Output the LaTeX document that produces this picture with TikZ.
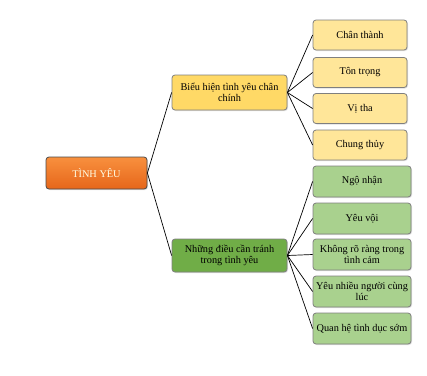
\documentclass[tikz,border=0pt]{standalone}
\usepackage{fontspec}
\setmainfont{Liberation Serif}
\usetikzlibrary{shadows}
\definecolor{roottop}{HTML}{F8903E}
\definecolor{rootbot}{HTML}{E6661A}
\definecolor{rootdraw}{HTML}{4A4A4A}
\definecolor{ymid}{HTML}{FFD966}
\definecolor{yleaf}{HTML}{FFE699}
\definecolor{gmid}{HTML}{70AD47}
\definecolor{gleaf}{HTML}{A9D18E}
\definecolor{bord}{HTML}{7F7F7F}
\tikzset{
  box/.style={draw=bord, line width=0.8pt, rounded corners=3pt, align=center, inner sep=1pt,
    font=\fontsize{10.3}{11.5}\selectfont, drop shadow={opacity=0.25, shadow xshift=1pt, shadow yshift=-1pt}},
  rootbox/.style={box, top color=roottop, bottom color=rootbot, draw=rootdraw, text=white!90!yellow, minimum width=101pt, minimum height=32pt},
  ymidbox/.style={box, fill=ymid, minimum width=115pt, minimum height=35pt},
  gmidbox/.style={box, fill=gmid, minimum width=115pt, minimum height=33pt},
  yleafbox/.style={box, fill=yleaf, minimum width=94pt, minimum height=30pt},
  gleafbox/.style={box, fill=gleaf, minimum width=98pt, minimum height=31pt},
  conn/.style={draw=black, line width=0.7pt}
}
\begin{document}
\begin{tikzpicture}[x=1pt,y=-1pt]
\useasboundingbox (0,0) rectangle (427,375);
\node[rootbox] (root) at (96.5,173) {TÌNH YÊU};
\node[ymidbox] (y) at (229.5,92.5) {Biểu hiện tình yêu chân\\chính};
\node[gmidbox] (g) at (229.5,255.5) {Những điều cần tránh\\trong tình yêu};
\node[yleafbox] (y1) at (360,35) {Chân thành};
\node[yleafbox] (y2) at (360,72.5) {Tôn trọng};
\node[yleafbox] (y3) at (360,108.5) {Vị tha};
\node[yleafbox] (y4) at (360,145) {Chung thủy};
\node[gleafbox] (g1) at (362,181.5) {Ngộ nhận};
\node[gleafbox] (g2) at (362,218.5) {Yêu vội};
\node[gleafbox] (g3) at (362,254.5) {Không rõ ràng trong\\tình cảm};
\node[gleafbox] (g4) at (362,291.5) {Yêu nhiều người cùng\\lúc};
\node[gleafbox] (g5) at (362,328.5) {Quan hệ tình dục sớm};
\draw[conn] (root.east) -- (y.west);
\draw[conn] (root.east) -- (g.west);
\foreach \n in {y1,y2,y3,y4} \draw[conn] (y.east) -- (\n.west);
\foreach \n in {g1,g2,g3,g4,g5} \draw[conn] (g.east) -- (\n.west);
\end{tikzpicture}
\end{document}
